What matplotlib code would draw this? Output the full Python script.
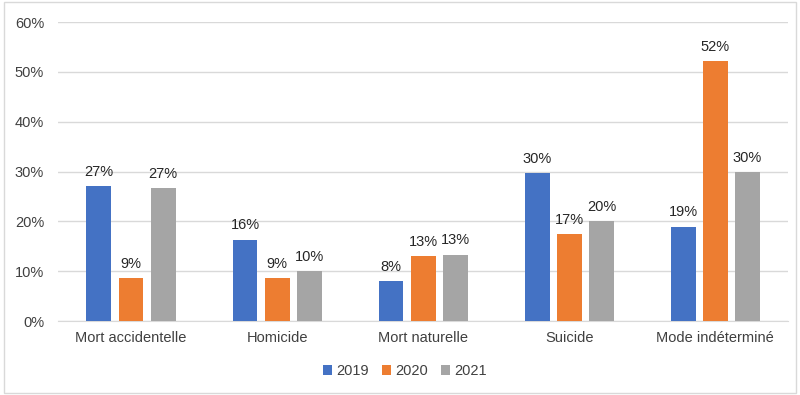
import numpy as np
import matplotlib
matplotlib.use("Agg")
import matplotlib.pyplot as plt
from matplotlib.patches import Rectangle

plt.rcParams['font.family'] = ['Liberation Sans', 'DejaVu Sans']

categories = ["Mort accidentelle", "Homicide", "Mort naturelle", "Suicide", "Mode indéterminé"]
years = ["2019", "2020", "2021"]
v2019 = [27.1, 16.3, 8.0, 29.7, 18.9]
v2020 = [8.6, 8.6, 13.0, 17.4, 52.2]
v2021 = [26.7, 10.0, 13.3, 20.0, 29.9]
colors = ["#4472C4", "#ED7D31", "#A5A5A5"]

fig = plt.figure(figsize=(8, 3.95), dpi=100)
ax = fig.add_axes([0.0725, 0.187, 0.913, 0.757])

x = np.arange(len(categories))
width = 0.17
step = 0.22
for i, (vals, yr) in enumerate(zip([v2019, v2020, v2021], years)):
    pos = x + (i - 1) * step
    ax.bar(pos, vals, width, color=colors[i], label=yr, zorder=3)
    for p, v in zip(pos, vals):
        ax.text(p, v + 1.5, "%d%%" % round(v), ha="center", va="bottom",
                fontsize=10.5, color="#262626")

ax.set_xlim(-0.5, len(categories) - 0.5)
ax.set_ylim(0, 60)
ax.set_yticks(range(0, 61, 10))
ax.set_yticklabels(["%d%%" % t for t in range(0, 61, 10)])
ax.set_xticks(x)
ax.set_xticklabels(categories)
ax.tick_params(axis="both", length=0, labelsize=10.5, labelcolor="#404040")
ax.tick_params(axis="x", pad=7)
ax.tick_params(axis="y", pad=10)
ax.grid(axis="y", color="#D9D9D9", linewidth=1, zorder=0)
for s in ["top", "right", "left"]:
    ax.spines[s].set_visible(False)
ax.spines["bottom"].set_color("#D9D9D9")

leg = ax.legend(loc="upper center", bbox_to_anchor=(0.475, -0.1), ncol=3,
                frameon=False, fontsize=10.5, handlelength=0.6, handleheight=0.6,
                columnspacing=0.9, handletextpad=0.3)
for t in leg.get_texts():
    t.set_color("#404040")

fig.patches.append(Rectangle((0.005, 0.005), 0.99, 0.99, transform=fig.transFigure,
                             fill=False, edgecolor="#D9D9D9", linewidth=1))

fig.savefig("out.png", dpi=100)
